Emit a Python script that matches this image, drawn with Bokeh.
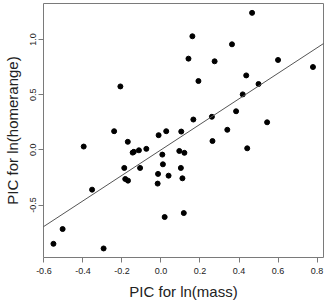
from bokeh.plotting import figure
from bokeh.models import Range1d, FixedTicker, Slope
from bokeh.embed import file_html
from bokeh.resources import INLINE

# Phylogenetically independent contrasts
pic_mass = [
    -0.551, -0.504, -0.396, -0.353, -0.294, -0.240, -0.208, -0.188,
    -0.183, -0.169, -0.170, -0.145, -0.139, -0.113, -0.107, -0.075,
    -0.012, -0.015, -0.017, 0.007, 0.010, 0.019, 0.027, 0.039,
    0.094, 0.102, 0.104, 0.110, 0.117, 0.120, 0.141, 0.161,
    0.166, 0.192, 0.261, 0.264, 0.275, 0.340, 0.364, 0.385,
    0.419, 0.437, 0.442, 0.467, 0.500, 0.544, 0.600, 0.779,
]
pic_homerange = [
    -0.852, -0.718, 0.030, -0.361, -0.894, 0.169, 0.575, -0.164,
    -0.264, -0.279, 0.073, -0.025, -0.018, -0.004, -0.164, 0.009,
    0.133, -0.218, -0.306, -0.043, -0.131, -0.609, 0.169, -0.234,
    -0.010, -0.164, 0.166, -0.258, -0.573, -0.027, 0.827, 1.030,
    0.275, 0.624, 0.300, 0.080, 0.803, 0.182, 0.957, 0.350,
    0.503, 0.675, 0.014, 1.242, 0.597, 0.250, 0.815, 0.751,
]

# Regression through the origin
fit_slope = 1.157

x_ticks = [-0.6, -0.4, -0.2, 0.0, 0.2, 0.4, 0.6, 0.8]
x_tick_labels = ["-0.6", "-0.4", "-0.2", "0.0", "0.2", "0.4", "0.6", "0.8"]
y_ticks = [-0.5, 0.0, 0.5, 1.0]
y_tick_labels = ["-0.5", "0.0", "0.5", "1.0"]

FONT = "Liberation Sans"
TEXT = "#222222"
FRAME = "#7a7a7a"

p = figure(
    width=325, height=304,
    x_range=Range1d(-0.602, 0.833),
    y_range=Range1d(-0.976, 1.327),
    output_backend="svg", toolbar_location=None,
    min_border_left=41, min_border_right=2,
    min_border_top=3, min_border_bottom=47,
)
p.background_fill_color = "white"
p.border_fill_color = "white"
p.outline_line_color = FRAME
p.outline_line_width = 1
p.grid.visible = False

p.xaxis.ticker = FixedTicker(ticks=x_ticks)
p.xaxis.major_label_overrides = {t: s for t, s in zip(x_ticks, x_tick_labels)}
p.yaxis.ticker = FixedTicker(ticks=y_ticks)
p.yaxis.major_label_overrides = {t: s for t, s in zip(y_ticks, y_tick_labels)}
p.yaxis.major_label_orientation = "vertical"

p.xaxis.axis_label = "PIC for ln(mass)"
p.yaxis.axis_label = "PIC for ln(homerange)"

for ax in (p.xaxis, p.yaxis):
    ax.axis_line_color = None
    ax.major_tick_line_color = FRAME
    ax.major_tick_in = 0
    ax.major_tick_out = 5
    ax.minor_tick_line_color = None
    ax.major_label_text_font = FONT
    ax.major_label_text_font_size = "9px"
    ax.major_label_text_color = TEXT
    ax.axis_label_text_font = FONT
    ax.axis_label_text_font_size = "15px"
    ax.axis_label_text_font_style = "normal"
    ax.axis_label_text_color = TEXT

p.xaxis.major_label_standoff = 5
p.xaxis.axis_label_standoff = 6
p.yaxis.major_label_standoff = 2
p.yaxis.axis_label_standoff = 7

p.add_layout(Slope(gradient=fit_slope, y_intercept=0.0,
                   line_color="#555555", line_width=1))

p.scatter(pic_mass, pic_homerange, size=5, color="black")

open("out.html", "w").write(file_html(p, INLINE))
